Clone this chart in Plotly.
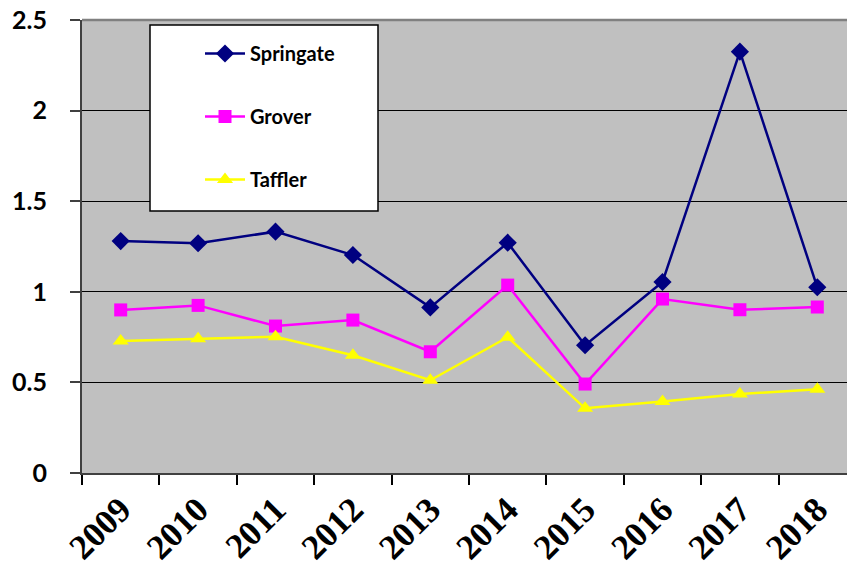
import plotly.graph_objects as go

years = ["2009", "2010", "2011", "2012", "2013", "2014", "2015", "2016", "2017", "2018"]
springate = [1.28, 1.268, 1.332, 1.203, 0.914, 1.271, 0.705, 1.054, 2.325, 1.025]
grover = [0.900, 0.925, 0.811, 0.844, 0.669, 1.037, 0.491, 0.960, 0.901, 0.916]
taffler = [0.728, 0.741, 0.752, 0.650, 0.512, 0.749, 0.357, 0.394, 0.436, 0.462]
y_ticks = [0, 0.5, 1, 1.5, 2, 2.5]
y_labels = ["0", "0.5", "1", "1.5", "2", "2.5"]

fig = go.Figure()
series = [
    ("Springate", springate, "#000080", "diamond", 14),
    ("Grover", grover, "#FF00FF", "square", 13),
    ("Taffler", taffler, "#FFFF00", "triangle-up", 14),
]
for name, vals, color, sym, size in series:
    fig.add_trace(go.Scatter(
        x=years, y=vals, name=name, mode="lines+markers",
        line=dict(color=color, width=2.5),
        marker=dict(symbol=sym, size=size, color=color),
        legendgroup=name,
    ))

# plot area sits at x 82..847, y 20..473 (body margin removed via post_script)
W, H = 847, 573
L, R, T, B = 82, 0, 20, 100
pw = W - L - R
ph = H - T - B

def px_x(p):
    return (p - L) / pw

def px_y(p):
    return (H - B - p) / ph

fig.update_layout(
    width=W, height=H,
    margin=dict(l=L, r=R, t=T, b=B, autoexpand=False),
    paper_bgcolor="white",
    plot_bgcolor="#C0C0C0",
    showlegend=True,
    legend=dict(
        x=px_x(200), y=px_y(34), xanchor="left", yanchor="top",
        bgcolor="rgba(0,0,0,0)", borderwidth=0,
        font=dict(family="Lato", size=20, color="black", weight="bold"),
        tracegroupgap=34,
        itemwidth=40,
    ),
    xaxis=dict(
        type="category",
        range=[-0.5, -0.5 + pw / 77.4],
        tickson="boundaries",
        ticks="outside", ticklen=10, tickcolor="black", tickwidth=1.5,
        tickangle=-45,
        tickfont=dict(family="Liberation Serif", size=35, color="black", weight="bold"),
        showgrid=False,
        showline=True, linecolor="#404040", linewidth=2,
        automargin=False,
    ),
    yaxis=dict(
        range=[0, 2.5],
        tickvals=y_ticks, ticktext=y_labels,
        ticks="outside", ticklen=10, tickcolor="#404040", tickwidth=1.5,
        tickfont=dict(family="Lato", size=25, color="black", weight="bold"),
        ticklabelstandoff=18,
        ticklabeloverflow="allow",
        showgrid=True, gridcolor="black", gridwidth=1,
        zeroline=False,
        showline=True, linecolor="#404040", linewidth=2,
        automargin=False,
    ),
    shapes=[
        dict(type="line", xref="paper", yref="paper", x0=0, x1=1, y0=1, y1=1,
             line=dict(color="#808080", width=2.5)),
        dict(type="rect", xref="paper", yref="paper",
             x0=px_x(150), x1=px_x(378), y0=px_y(211), y1=px_y(25),
             fillcolor="white", line=dict(color="black", width=1.5), layer="above"),
    ],
)

fig.write_html(
    "out.html",
    config={"displayModeBar": False},
    post_script="document.body.style.margin='0';document.body.style.overflow='hidden';",
)
